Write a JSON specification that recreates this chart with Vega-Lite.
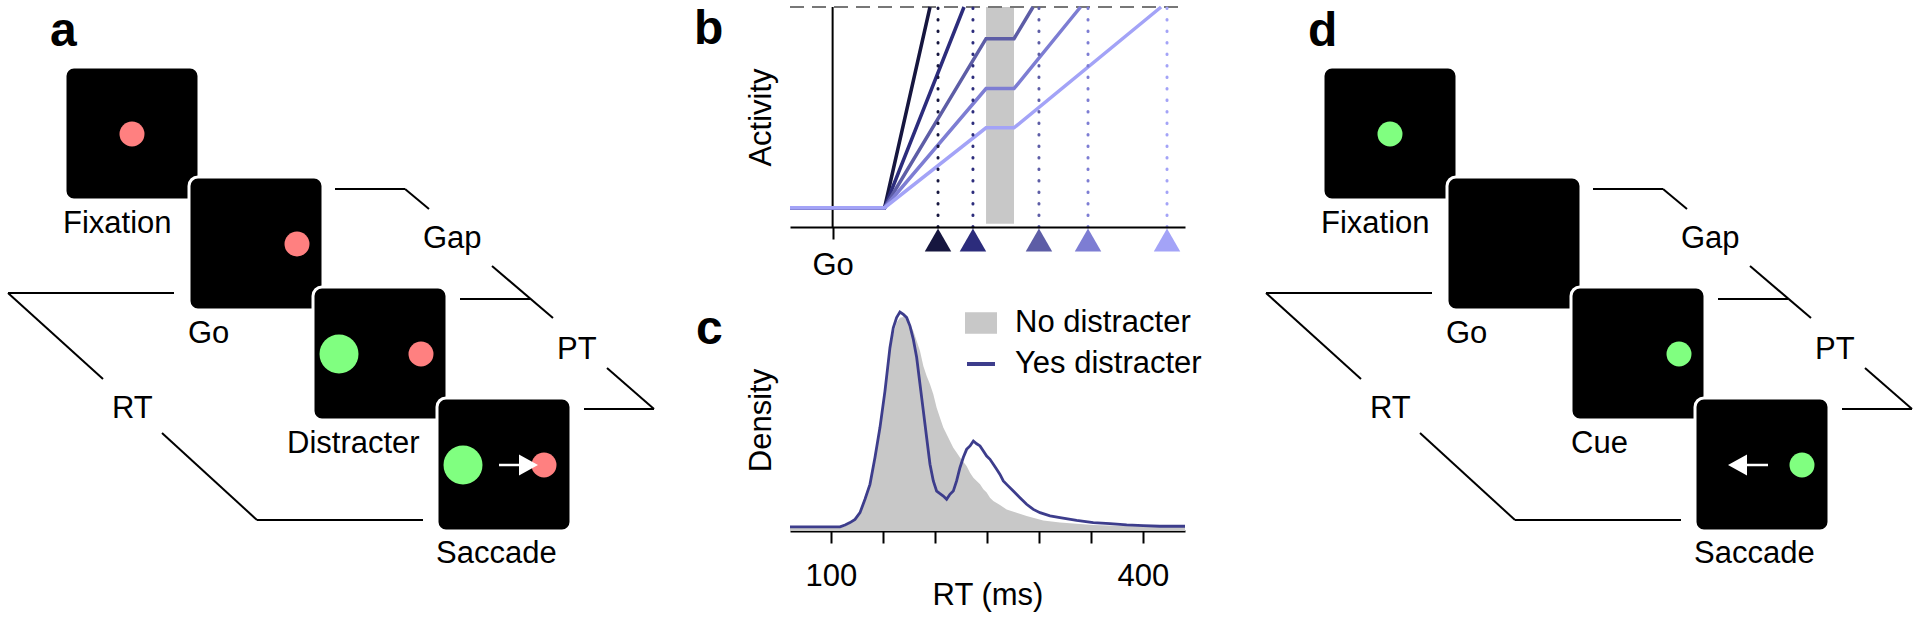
{
  "$schema": "https://vega.github.io/schema/vega-lite/v6.json",
  "padding": 0,
  "background": "white",
  "spacing": 74,
  "bounds": "flush",
  "resolve": {"scale": {"color": "independent"}},
  "config": {
    "view": {"stroke": null},
    "font": "Liberation Sans",
    "axis": {"domainColor": "black", "domainWidth": 2, "tickColor": "black", "tickWidth": 2, "labelColor": "black", "titleColor": "black", "labelFontSize": 31, "titleFontSize": 31, "titleFontWeight": "normal", "labelFont": "Liberation Sans", "titleFont": "Liberation Sans", "grid": false}
  },
  "datasets": {
    "schema": [
      {"kind": "bg", "x": 0, "x2": 1920, "y": 0, "y2": 619},
      {"kind": "seg", "x": 335, "y": 188, "x2": 405, "y2": 188},
      {"kind": "seg", "x": 405, "y": 188, "x2": 429, "y2": 208},
      {"kind": "seg", "x": 492, "y": 265, "x2": 553, "y2": 317},
      {"kind": "seg", "x": 460, "y": 298, "x2": 530, "y2": 298},
      {"kind": "seg", "x": 607, "y": 367, "x2": 654, "y2": 408},
      {"kind": "seg", "x": 584, "y": 408, "x2": 654, "y2": 408},
      {"kind": "seg", "x": 8, "y": 292, "x2": 174, "y2": 292},
      {"kind": "seg", "x": 8, "y": 292, "x2": 103, "y2": 378},
      {"kind": "seg", "x": 162, "y": 432, "x2": 257, "y2": 519},
      {"kind": "seg", "x": 257, "y": 519, "x2": 423, "y2": 519},
      {"kind": "square", "x": 65, "x2": 199, "y": 66, "y2": 199},
      {"kind": "square", "x": 189, "x2": 323, "y": 176, "y2": 309},
      {"kind": "square", "x": 313, "x2": 447, "y": 286, "y2": 419},
      {"kind": "square", "x": 437, "x2": 571, "y": 397, "y2": 530},
      {"kind": "red", "x": 132, "y": 133},
      {"kind": "red", "x": 297, "y": 243},
      {"kind": "red", "x": 421, "y": 353},
      {"kind": "red", "x": 544, "y": 464},
      {"kind": "biggreen", "x": 339, "y": 353},
      {"kind": "biggreen", "x": 463, "y": 464},
      {"kind": "shaft", "x": 499, "x2": 521, "y": 464},
      {"kind": "headR", "x": 528, "y": 464},
      {"kind": "label", "x": 63, "y": 232, "text": "Fixation"},
      {"kind": "label", "x": 188, "y": 342, "text": "Go"},
      {"kind": "label", "x": 287, "y": 452, "text": "Distracter"},
      {"kind": "label", "x": 436, "y": 562, "text": "Saccade"},
      {"kind": "label", "x": 423, "y": 247, "text": "Gap"},
      {"kind": "label", "x": 557, "y": 358, "text": "PT"},
      {"kind": "label", "x": 112, "y": 417, "text": "RT"},
      {"kind": "letter", "x": 50, "y": 45, "text": "a"},
      {"kind": "letter", "x": 694, "y": 43, "text": "b"},
      {"kind": "letter", "x": 696, "y": 343, "text": "c"},
      {"kind": "seg", "x": 1593, "y": 188, "x2": 1663, "y2": 188},
      {"kind": "seg", "x": 1663, "y": 188, "x2": 1687, "y2": 208},
      {"kind": "seg", "x": 1750, "y": 265, "x2": 1811, "y2": 317},
      {"kind": "seg", "x": 1718, "y": 298, "x2": 1788, "y2": 298},
      {"kind": "seg", "x": 1865, "y": 367, "x2": 1912, "y2": 408},
      {"kind": "seg", "x": 1842, "y": 408, "x2": 1912, "y2": 408},
      {"kind": "seg", "x": 1266, "y": 292, "x2": 1432, "y2": 292},
      {"kind": "seg", "x": 1266, "y": 292, "x2": 1361, "y2": 378},
      {"kind": "seg", "x": 1420, "y": 432, "x2": 1515, "y2": 519},
      {"kind": "seg", "x": 1515, "y": 519, "x2": 1681, "y2": 519},
      {"kind": "square", "x": 1323, "x2": 1457, "y": 66, "y2": 199},
      {"kind": "square", "x": 1447, "x2": 1581, "y": 176, "y2": 309},
      {"kind": "square", "x": 1571, "x2": 1705, "y": 286, "y2": 419},
      {"kind": "square", "x": 1695, "x2": 1829, "y": 397, "y2": 530},
      {"kind": "green", "x": 1390, "y": 133},
      {"kind": "green", "x": 1679, "y": 353},
      {"kind": "green", "x": 1802, "y": 464},
      {"kind": "shaft", "x": 1745, "x2": 1768, "y": 464},
      {"kind": "headL", "x": 1738, "y": 464},
      {"kind": "label", "x": 1321, "y": 232, "text": "Fixation"},
      {"kind": "label", "x": 1446, "y": 342, "text": "Go"},
      {"kind": "label", "x": 1571, "y": 452, "text": "Cue"},
      {"kind": "label", "x": 1694, "y": 562, "text": "Saccade"},
      {"kind": "label", "x": 1681, "y": 247, "text": "Gap"},
      {"kind": "label", "x": 1815, "y": 358, "text": "PT"},
      {"kind": "label", "x": 1370, "y": 417, "text": "RT"},
      {"kind": "letter", "x": 1308, "y": 45, "text": "d"}
    ],
    "lines": [
      {"cell": "1", "t": -41, "act": 0.088}, {"cell": "1", "t": 50, "act": 0.088}, {"cell": "1", "t": 93.7, "act": 1},
      {"cell": "2", "t": -41, "act": 0.088}, {"cell": "2", "t": 50, "act": 0.088}, {"cell": "2", "t": 126.4, "act": 1},
      {"cell": "3", "t": -41, "act": 0.088}, {"cell": "3", "t": 50, "act": 0.088}, {"cell": "3", "t": 147.6, "act": 0.856}, {"cell": "3", "t": 174.5, "act": 0.856}, {"cell": "3", "t": 192.8, "act": 1},
      {"cell": "4", "t": -41, "act": 0.088}, {"cell": "4", "t": 50, "act": 0.088}, {"cell": "4", "t": 147.6, "act": 0.629}, {"cell": "4", "t": 174.5, "act": 0.629}, {"cell": "4", "t": 238.5, "act": 1},
      {"cell": "5", "t": -41, "act": 0.088}, {"cell": "5", "t": 50, "act": 0.088}, {"cell": "5", "t": 147.6, "act": 0.451}, {"cell": "5", "t": 174.5, "act": 0.451}, {"cell": "5", "t": 316, "act": 1}
    ],
    "cues": [
      {"cell": "1", "t": 101.4, "act": 0, "act2": 1}, {"cell": "2", "t": 135, "act": 0, "act2": 1}, {"cell": "3", "t": 198.5, "act": 0, "act2": 1}, {"cell": "4", "t": 245.7, "act": 0, "act2": 1}, {"cell": "5", "t": 321.7, "act": 0, "act2": 1}
    ],
    "density": [
      {"cond": "No distracter", "rt": 60.6, "d": 0.005}, {"cond": "No distracter", "rt": 108.7, "d": 0.005}, {"cond": "No distracter", "rt": 113.5, "d": 0.008}, {"cond": "No distracter", "rt": 118.3, "d": 0.02}, {"cond": "No distracter", "rt": 123.1, "d": 0.04}, {"cond": "No distracter", "rt": 127.9, "d": 0.079}, {"cond": "No distracter", "rt": 132.7, "d": 0.148}, {"cond": "No distracter", "rt": 137.5, "d": 0.218}, {"cond": "No distracter", "rt": 142.3, "d": 0.341}, {"cond": "No distracter", "rt": 147.1, "d": 0.48}, {"cond": "No distracter", "rt": 151.9, "d": 0.65}, {"cond": "No distracter", "rt": 156.7, "d": 0.819}, {"cond": "No distracter", "rt": 159.9, "d": 0.897}, {"cond": "No distracter", "rt": 163.1, "d": 0.951}, {"cond": "No distracter", "rt": 166.3, "d": 0.974}, {"cond": "No distracter", "rt": 169.6, "d": 0.977}, {"cond": "No distracter", "rt": 172.8, "d": 0.966}, {"cond": "No distracter", "rt": 176.0, "d": 0.943}, {"cond": "No distracter", "rt": 179.2, "d": 0.912}, {"cond": "No distracter", "rt": 182.4, "d": 0.866}, {"cond": "No distracter", "rt": 185.6, "d": 0.819}, {"cond": "No distracter", "rt": 188.8, "d": 0.75}, {"cond": "No distracter", "rt": 192.0, "d": 0.704}, {"cond": "No distracter", "rt": 195.2, "d": 0.665}, {"cond": "No distracter", "rt": 198.4, "d": 0.619}, {"cond": "No distracter", "rt": 201.6, "d": 0.557}, {"cond": "No distracter", "rt": 204.8, "d": 0.511}, {"cond": "No distracter", "rt": 208.0, "d": 0.465}, {"cond": "No distracter", "rt": 211.2, "d": 0.434}, {"cond": "No distracter", "rt": 214.4, "d": 0.403}, {"cond": "No distracter", "rt": 217.6, "d": 0.372}, {"cond": "No distracter", "rt": 220.8, "d": 0.349}, {"cond": "No distracter", "rt": 224.0, "d": 0.326}, {"cond": "No distracter", "rt": 227.2, "d": 0.307}, {"cond": "No distracter", "rt": 230.4, "d": 0.287}, {"cond": "No distracter", "rt": 233.7, "d": 0.256}, {"cond": "No distracter", "rt": 236.9, "d": 0.233}, {"cond": "No distracter", "rt": 240.1, "d": 0.218}, {"cond": "No distracter", "rt": 243.3, "d": 0.202}, {"cond": "No distracter", "rt": 246.5, "d": 0.179}, {"cond": "No distracter", "rt": 249.7, "d": 0.164}, {"cond": "No distracter", "rt": 252.9, "d": 0.14}, {"cond": "No distracter", "rt": 256.1, "d": 0.125}, {"cond": "No distracter", "rt": 262.5, "d": 0.106}, {"cond": "No distracter", "rt": 268.9, "d": 0.086}, {"cond": "No distracter", "rt": 278.5, "d": 0.071}, {"cond": "No distracter", "rt": 288.1, "d": 0.056}, {"cond": "No distracter", "rt": 304.1, "d": 0.035}, {"cond": "No distracter", "rt": 320.2, "d": 0.025}, {"cond": "No distracter", "rt": 352.2, "d": 0.014}, {"cond": "No distracter", "rt": 384.3, "d": 0.009}, {"cond": "No distracter", "rt": 440.4, "d": 0.005},
      {"cond": "Yes distracter", "rt": 60.6, "d": 0.005}, {"cond": "Yes distracter", "rt": 108.7, "d": 0.005}, {"cond": "Yes distracter", "rt": 113.5, "d": 0.014}, {"cond": "Yes distracter", "rt": 118.3, "d": 0.025}, {"cond": "Yes distracter", "rt": 123.1, "d": 0.04}, {"cond": "Yes distracter", "rt": 127.9, "d": 0.071}, {"cond": "Yes distracter", "rt": 132.7, "d": 0.133}, {"cond": "Yes distracter", "rt": 137.5, "d": 0.202}, {"cond": "Yes distracter", "rt": 142.3, "d": 0.326}, {"cond": "Yes distracter", "rt": 147.1, "d": 0.465}, {"cond": "Yes distracter", "rt": 151.9, "d": 0.634}, {"cond": "Yes distracter", "rt": 156.7, "d": 0.835}, {"cond": "Yes distracter", "rt": 159.9, "d": 0.927}, {"cond": "Yes distracter", "rt": 163.1, "d": 0.974}, {"cond": "Yes distracter", "rt": 166.3, "d": 1.0}, {"cond": "Yes distracter", "rt": 169.6, "d": 0.989}, {"cond": "Yes distracter", "rt": 172.8, "d": 0.974}, {"cond": "Yes distracter", "rt": 176.0, "d": 0.935}, {"cond": "Yes distracter", "rt": 179.2, "d": 0.873}, {"cond": "Yes distracter", "rt": 182.4, "d": 0.789}, {"cond": "Yes distracter", "rt": 185.6, "d": 0.665}, {"cond": "Yes distracter", "rt": 188.8, "d": 0.542}, {"cond": "Yes distracter", "rt": 192.0, "d": 0.418}, {"cond": "Yes distracter", "rt": 195.2, "d": 0.295}, {"cond": "Yes distracter", "rt": 198.4, "d": 0.218}, {"cond": "Yes distracter", "rt": 201.6, "d": 0.171}, {"cond": "Yes distracter", "rt": 204.8, "d": 0.159}, {"cond": "Yes distracter", "rt": 208.0, "d": 0.148}, {"cond": "Yes distracter", "rt": 211.2, "d": 0.133}, {"cond": "Yes distracter", "rt": 214.4, "d": 0.156}, {"cond": "Yes distracter", "rt": 217.6, "d": 0.171}, {"cond": "Yes distracter", "rt": 220.8, "d": 0.218}, {"cond": "Yes distracter", "rt": 224.0, "d": 0.279}, {"cond": "Yes distracter", "rt": 227.2, "d": 0.326}, {"cond": "Yes distracter", "rt": 230.4, "d": 0.364}, {"cond": "Yes distracter", "rt": 233.7, "d": 0.38}, {"cond": "Yes distracter", "rt": 236.9, "d": 0.403}, {"cond": "Yes distracter", "rt": 240.1, "d": 0.39}, {"cond": "Yes distracter", "rt": 243.3, "d": 0.38}, {"cond": "Yes distracter", "rt": 246.5, "d": 0.356}, {"cond": "Yes distracter", "rt": 249.7, "d": 0.333}, {"cond": "Yes distracter", "rt": 252.9, "d": 0.318}, {"cond": "Yes distracter", "rt": 256.1, "d": 0.295}, {"cond": "Yes distracter", "rt": 259.3, "d": 0.272}, {"cond": "Yes distracter", "rt": 262.5, "d": 0.248}, {"cond": "Yes distracter", "rt": 265.7, "d": 0.218}, {"cond": "Yes distracter", "rt": 268.9, "d": 0.202}, {"cond": "Yes distracter", "rt": 275.3, "d": 0.171}, {"cond": "Yes distracter", "rt": 281.7, "d": 0.14}, {"cond": "Yes distracter", "rt": 288.1, "d": 0.11}, {"cond": "Yes distracter", "rt": 294.6, "d": 0.086}, {"cond": "Yes distracter", "rt": 301.0, "d": 0.071}, {"cond": "Yes distracter", "rt": 310.6, "d": 0.056}, {"cond": "Yes distracter", "rt": 320.2, "d": 0.048}, {"cond": "Yes distracter", "rt": 336.2, "d": 0.035}, {"cond": "Yes distracter", "rt": 352.2, "d": 0.025}, {"cond": "Yes distracter", "rt": 368.3, "d": 0.02}, {"cond": "Yes distracter", "rt": 384.3, "d": 0.014}, {"cond": "Yes distracter", "rt": 400.3, "d": 0.011}, {"cond": "Yes distracter", "rt": 416.3, "d": 0.008}, {"cond": "Yes distracter", "rt": 440.4, "d": 0.008}
    ]
  },
  "vconcat": [
    {
      "width": 395, "height": 226,
      "resolve": {"scale": {"x": "independent", "y": "independent"}, "axis": {"x": "independent", "y": "independent"}},
      "layer": [
        {
          "data": {"name": "schema"},
          "encoding": {
            "x": {"field": "x", "type": "quantitative", "scale": {"domain": [790, 1185], "nice": false, "zero": false}, "axis": null},
            "y": {"field": "y", "type": "quantitative", "scale": {"domain": [0, 226], "nice": false, "zero": false, "reverse": true}, "axis": null}
          },
          "layer": [
            {"transform": [{"filter": "datum.kind === 'bg'"}], "mark": {"type": "rect", "fill": "white", "opacity": 0}, "encoding": {"x2": {"field": "x2"}, "y2": {"field": "y2"}}},
            {"transform": [{"filter": "datum.kind === 'seg'"}], "mark": {"type": "rule", "color": "black", "strokeWidth": 2}, "encoding": {"x2": {"field": "x2"}, "y2": {"field": "y2"}}},
            {"transform": [{"filter": "datum.kind === 'square'"}], "mark": {"type": "rect", "fill": "black", "stroke": "white", "strokeWidth": 3, "cornerRadius": 9}, "encoding": {"x2": {"field": "x2"}, "y2": {"field": "y2"}}},
            {"transform": [{"filter": "datum.kind === 'red'"}], "mark": {"type": "circle", "size": 625, "color": "#ff8080", "opacity": 1}},
            {"transform": [{"filter": "datum.kind === 'green'"}], "mark": {"type": "circle", "size": 625, "color": "#80ff80", "opacity": 1}},
            {"transform": [{"filter": "datum.kind === 'biggreen'"}], "mark": {"type": "circle", "size": 1521, "color": "#80ff80", "opacity": 1}},
            {"transform": [{"filter": "datum.kind === 'shaft'"}], "mark": {"type": "rule", "color": "white", "strokeWidth": 2.5}, "encoding": {"x2": {"field": "x2"}}},
            {"transform": [{"filter": "datum.kind === 'headR'"}], "mark": {"type": "point", "shape": "M-0.9,-1.05L1,0L-0.9,1.05Z", "filled": true, "size": 400, "color": "white", "opacity": 1}},
            {"transform": [{"filter": "datum.kind === 'headL'"}], "mark": {"type": "point", "shape": "M0.9,-1.05L-1,0L0.9,1.05Z", "filled": true, "size": 400, "color": "white", "opacity": 1}},
            {"transform": [{"filter": "datum.kind === 'label'"}], "mark": {"type": "text", "align": "left", "baseline": "alphabetic", "fontSize": 31, "font": "Liberation Sans", "color": "black"}, "encoding": {"text": {"field": "text"}}},
            {"transform": [{"filter": "datum.kind === 'letter'"}], "mark": {"type": "text", "align": "left", "baseline": "alphabetic", "fontSize": 48, "fontWeight": "bold", "font": "Liberation Sans", "color": "black"}, "encoding": {"text": {"field": "text"}}}
          ]
        },
        {
          "encoding": {
            "x": {"field": "t", "type": "quantitative", "scale": {"domain": [-41, 339], "nice": false, "zero": false}, "axis": {"orient": "bottom", "zindex": 2, "values": [0], "labelExpr": "'Go'", "tickSize": 12, "labelPadding": 11, "title": null, "labelFlush": false}},
            "y": {"field": "act", "type": "quantitative", "scale": {"domain": [0, 1.0273], "nice": false, "zero": false}, "axis": {"orient": "left", "zindex": 2, "title": "Activity", "domain": false, "ticks": false, "labels": false, "titleX": -20, "titleY": 116, "titleAngle": -90, "titleBaseline": "alphabetic", "titleAlign": "center"}}
          },
          "layer": [
            {"data": {"values": [{"t": 147.6, "t2": 174.5, "act": 1.0, "act2": 0.015}]}, "mark": {"type": "rect", "color": "#c8c8c8"}, "encoding": {"x2": {"field": "t2"}, "y2": {"field": "act2"}}},
            {"data": {"values": [{"t": -41, "t2": 339, "act": 1}]}, "mark": {"type": "rule", "color": "#777777", "strokeWidth": 2, "strokeDash": [14, 8]}, "encoding": {"x2": {"field": "t2"}}},
            {"data": {"values": [{"t": 0, "act": 1, "act2": 0}]}, "mark": {"type": "rule", "color": "black", "strokeWidth": 2}, "encoding": {"y2": {"field": "act2"}}},
            {"data": {"name": "lines"}, "mark": {"type": "line", "strokeWidth": 3.5}, "encoding": {"color": {"field": "cell", "type": "nominal", "scale": {"domain": ["1", "2", "3", "4", "5"], "range": ["#16163f", "#2c2c7c", "#5d5da6", "#7d7dd3", "#a3a3f7"]}, "legend": null}}},
            {"data": {"name": "cues"}, "mark": {"type": "rule", "strokeWidth": 3, "strokeDash": [0.5, 11], "strokeCap": "round"}, "encoding": {"y2": {"field": "act2"}, "color": {"field": "cell", "type": "nominal", "scale": {"domain": ["1", "2", "3", "4", "5"], "range": ["#16163f", "#2c2c7c", "#5d5da6", "#7d7dd3", "#a3a3f7"]}, "legend": null}}},
            {"data": {"name": "cues"}, "mark": {"type": "point", "shape": "triangle-up", "filled": true, "size": 700, "opacity": 1, "yOffset": 13}, "encoding": {"color": {"field": "cell", "type": "nominal", "scale": {"domain": ["1", "2", "3", "4", "5"], "range": ["#16163f", "#2c2c7c", "#5d5da6", "#7d7dd3", "#a3a3f7"]}, "legend": null}}}
          ]
        }
      ]
    },
    {
      "width": 395, "height": 230,
      "data": {"name": "density"},
      "encoding": {
        "x": {"field": "rt", "type": "quantitative", "scale": {"domain": [60.6, 440.4], "nice": false, "zero": false}, "axis": {"orient": "bottom", "values": [100, 150, 200, 250, 300, 350, 400], "labelExpr": "datum.value == 100 || datum.value == 400 ? datum.label : ''", "tickSize": 12, "labelPadding": 18, "title": "RT (ms)", "titleY": 73, "titleBaseline": "alphabetic", "labelFlush": false}},
        "y": {"field": "d", "type": "quantitative", "stack": null, "scale": {"domain": [-0.0139, 1.051], "nice": false, "zero": false}, "axis": {"orient": "left", "title": "Density", "domain": false, "ticks": false, "labels": false, "titleX": -20, "titleY": 119, "titleAngle": -90, "titleBaseline": "alphabetic", "titleAlign": "center"}},
        "color": {"field": "cond", "type": "nominal", "scale": {"domain": ["No distracter", "Yes distracter"], "range": ["#c8c8c8", "#3d3d8c"]},
          "legend": {"title": null, "orient": "none", "legendX": 175, "legendY": 6, "padding": 0, "labelFontSize": 31, "labelFont": "Liberation Sans", "labelColor": "black", "labelOffset": 18, "labelLimit": 500, "symbolSize": 784, "symbolStrokeWidth": 4, "rowPadding": 8,
            "encode": {"symbols": {"update": {
              "shape": {"signal": "datum.value === 'No distracter' ? 'M-1,-0.62H1V0.62H-1Z' : 'M-1,0H1'"},
              "fill": {"signal": "datum.value === 'No distracter' ? '#c8c8c8' : 'transparent'"},
              "stroke": {"signal": "datum.value === 'No distracter' ? 'transparent' : '#3d3d8c'"},
              "strokeWidth": {"value": 4},
              "opacity": {"value": 1}
            }}}}}
      },
      "layer": [
        {"transform": [{"filter": "datum.cond === 'No distracter'"}], "mark": {"type": "area", "opacity": 1}, "encoding": {"y2": {"datum": -0.0139}}},
        {"transform": [{"filter": "datum.cond === 'Yes distracter'"}], "mark": {"type": "line", "strokeWidth": 2.8}}
      ]
    }
  ]
}
